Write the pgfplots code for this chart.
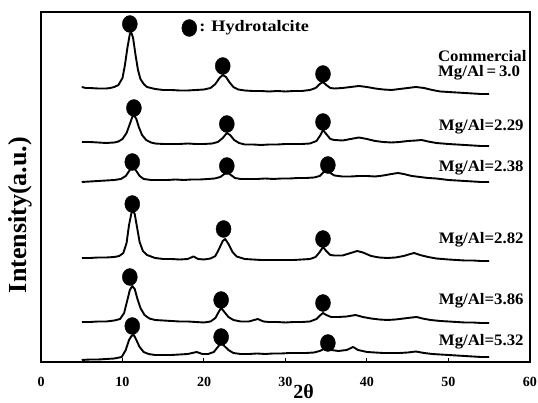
\documentclass[border=0pt]{standalone}
\usepackage{pgfplots}
\pgfplotsset{compat=1.18}
\usepackage{fontspec}
\setmainfont{Liberation Serif}
\begin{document}
\begin{tikzpicture}[lab/.style={font=\fontsize{16}{16}\selectfont\bfseries, anchor=west, inner sep=0pt, xscale=1.05},
  tl/.style={font=\fontsize{14}{14}\selectfont\bfseries, anchor=center, inner sep=0pt, yshift=-20pt}]
\begin{axis}[
  scale only axis, width=489pt, height=350pt,
  xmin=0, xmax=60, ymin=38, ymax=388,
  xtick={0,10,20,30,40,50,60}, ytick=\empty,
  xticklabels=\empty,
  xtick pos=left, tick align=inside,
  major tick length=4pt,
  axis line style={line width=1.2pt},
  every tick/.style={black, line width=1pt},
  xlabel={2θ},
  xlabel style={font=\fontsize{20}{20}\selectfont\bfseries, inner sep=0pt, at={(axis description cs:0.537,-0.086)}, anchor=center},
  ylabel={Intensity(a.u.)},
  ylabel style={font=\fontsize{26}{26}\selectfont\bfseries, inner sep=0pt, at={(axis description cs:-0.042,0.42)}, anchor=center},
  clip=false,
  trace/.style={black, line width=1.9pt, line join=round, mark=none},
  pk/.style={only marks, mark=*, mark size=7.5pt, black, every mark/.append style={yscale=1.13}},
]
% Commercial Mg/Al=3.0
\addplot[trace] coordinates {
(5,313)(5.5,312)(6,312)(7,311.5)(8,311.5)(8.5,312)(9,313)(9.5,315)(10,322)(10.3,335)(10.6,352)(10.9,366)(11.1,367)(11.3,362)(11.6,345)(11.9,330)(12.2,321)(12.6,316)(13,313)(14,311)(15,310)(16,310)(17,309.5)(18,309.5)(19,310)(20,310.5)(20.8,312)(21.4,316)(21.9,322)(22.3,325)(22.7,323)(23.1,318)(23.6,313)(24.2,310.5)(25,309.5)(26,309)(27,309)(28,308.5)(29,309)(30,308.5)(31,309)(32,309)(33,310)(33.7,312)(34.2,316)(34.6,318)(35,315)(35.5,312)(36,311.5)(37,312)(38,313)(39,314)(40,313)(41,311.5)(42,310.5)(43,310)(44,311)(45,312)(46,313)(47,312)(48,310)(49,308.5)(50,308)(51,307.5)(52,307)(53,306.5)(54,306)(55,306)};
% Mg/Al=2.29
\addplot[trace] coordinates {
(5,258)(6,258)(7,257.5)(8,257)(9,257.5)(9.5,258.5)(10,261)(10.5,267)(10.9,276)(11.2,283)(11.4,285)(11.7,281)(12,273)(12.4,265)(12.9,260)(13.5,257.5)(14,256.5)(15,256)(16,256)(17,256)(18,256.5)(19,256)(20,256)(21,256.5)(21.7,258)(22.3,262)(22.8,267)(23.2,265)(23.7,260)(24.3,257)(25,255.5)(26,255.5)(27,255)(28,255.5)(29,255.5)(30,256)(31,256)(32,256)(33,256.5)(33.8,259)(34.3,265)(34.6,270)(35,266)(35.5,261)(36,260)(37,259.5)(38,261)(39,262.5)(40,261)(41,259)(42,258)(43,257.5)(44,258)(45,259)(46,259.5)(46.7,260)(47.5,258.5)(48.5,257)(50,256)(51,255.5)(52,255)(53,254.5)(54,254)(55,254)};
% Mg/Al=2.38
\addplot[trace] coordinates {
(5,218)(6,218.5)(7,219)(8,219.5)(9,220)(9.8,221)(10.4,224)(10.9,230)(11.3,233)(11.7,229)(12.1,224)(12.6,221)(13.5,220)(14.5,220)(15.5,220)(16.5,220.5)(17.5,220)(18.5,220.5)(19.5,220.5)(20.5,221)(21.3,221.5)(22,223)(22.5,226)(22.9,227.5)(23.3,225)(23.8,222)(24.5,221)(25.5,221)(26.5,221)(27.5,221.5)(28.5,221)(29.5,221.5)(30.5,221.5)(31.5,222)(32.5,222)(33.5,222.5)(34.2,224)(34.7,228)(35.1,230)(35.5,227)(36,224.5)(37,223.5)(38,223.5)(39,224)(40,224)(41,223.5)(42,224.5)(43,226)(43.8,227)(44.5,226)(45.5,224)(46.5,223)(47.5,222)(48.5,221.5)(50,220)(51,219.5)(52,219)(53,218.5)(54,218)(55,218)};
% Mg/Al=2.82
\addplot[trace] coordinates {
(5,142)(6,142)(7,142.5)(8,142.5)(9,143)(9.6,144)(10.1,147)(10.5,157)(10.8,175)(11.1,187)(11.3,189)(11.5,186)(11.8,172)(12.1,158)(12.5,149)(13,145)(14,142)(15,141)(16,141)(17,140.5)(18,141)(18.7,143.5)(19.3,141)(20,140.5)(20.8,141.5)(21.4,144)(21.9,152)(22.3,159)(22.6,161)(23,156)(23.5,148)(24,143.5)(25,141)(26,140.5)(27,140)(28,140)(29,140)(30,140)(31,140)(32,140.5)(33,141)(33.7,143)(34.2,148)(34.6,153)(35,149)(35.5,145)(36,144.5)(37,144.5)(38,147)(38.8,149)(39.5,147.5)(40.5,144)(41.5,142.5)(42.5,142)(43.5,142.5)(44.5,144)(45.3,146)(45.8,147)(46.5,145)(47.5,143)(48.5,141.5)(50,140.5)(51,140)(52,139.5)(53,139.5)(54,139)(55,139)};
% Mg/Al=3.86
\addplot[trace] coordinates {
(5,78)(6,78)(7,78.5)(8,78.5)(9,79.5)(9.7,81)(10.2,87)(10.6,100)(10.9,110)(11.2,114)(11.5,111)(11.8,102)(12.2,92)(12.7,85)(13.3,81.5)(14,80)(15,79.5)(16,79)(17,78.5)(18,78.5)(19,78)(20,77.5)(20.8,78.5)(21.4,82)(21.8,88)(22.1,92)(22.5,88)(23,83)(23.6,80)(24.5,78.5)(25.5,78.5)(26.6,81)(27.3,78.5)(28,78)(29,78)(30,77.5)(31,78)(32,78)(33,78.5)(33.8,81)(34.3,85)(34.6,87)(35,85)(35.6,83)(36.5,83)(37.5,83.5)(38.6,85)(39.5,83)(40.5,81.5)(41.5,80.5)(42.5,80)(43.5,80.5)(44.5,81.5)(45.5,82.5)(46.1,83)(46.8,81.5)(47.8,80)(49,79)(50,78.5)(51,78)(52,77.5)(53,77.5)(54,77)(55,77)};
% Mg/Al=5.32
\addplot[trace] coordinates {
(5,40)(6,40.5)(7,40.5)(8,41)(9,41.5)(9.9,43)(10.4,50)(10.8,60)(11.1,64)(11.4,65)(11.7,60)(12.1,53)(12.6,48)(13.2,46)(14,45)(15,45)(16,45)(17,45.5)(18,46)(19.1,48)(19.8,46)(20.5,46)(21.2,48)(21.7,53)(22.1,57)(22.5,54)(23,50)(23.6,47)(24.5,46)(25.5,46)(26.5,46.5)(27.5,46)(28.5,46.5)(29.5,46.5)(30.5,47)(31.5,47)(32.5,47)(33.5,47.5)(34.2,49)(34.7,51)(35.1,51.5)(35.6,50)(36.5,49)(37.5,50)(38.3,53)(38.9,50)(40,48)(41,47.5)(42,47)(43,47)(44,47)(45,47.5)(46,48.5)(47,47)(48,46)(49,45.5)(50,45)(51,44.5)(52,44)(53,43.5)(54,43)(55,43)};
% hydrotalcite markers
\addplot[pk] coordinates {(10.9,376)(22.3,334)(34.6,326)
(11.4,292)(22.8,276)(34.6,278)
(11.2,238)(22.8,234)(35.2,235)
(11.2,196)(22.4,171)(34.6,161)
(10.9,123)(22.1,100)(34.6,97)
(11.2,74)(22.1,63)(35.2,57)
(18.2,372)};
\node[lab, font=\fontsize{16}{16}\selectfont\bfseries, xscale=1.08] at (axis cs:19.4,372) {: Hydrotalcite};
\node[lab] at (axis cs:48.7,344) {Commercial};
\node[lab] at (axis cs:48.7,327) {Mg/Al\,=\,3.0};
\node[lab] at (axis cs:48.8,273) {Mg/Al=2.29};
\node[lab] at (axis cs:48.8,232) {Mg/Al=2.38};
\node[lab] at (axis cs:48.8,160) {Mg/Al=2.82};
\node[lab] at (axis cs:48.8,99) {Mg/Al=3.86};
\node[lab] at (axis cs:48.8,58) {Mg/Al=5.32};
\node[tl] at (axis cs:0,38) {0};
\node[tl] at (axis cs:10,38) {10};
\node[tl] at (axis cs:20,38) {20};
\node[tl] at (axis cs:30,38) {30};
\node[tl] at (axis cs:40,38) {40};
\node[tl] at (axis cs:50,38) {50};
\node[tl] at (axis cs:60,38) {60};
\end{axis}
\pgfresetboundingbox
\path (current axis.south west) ++(-41pt,-41pt) rectangle ++(538pt,403pt);
\end{tikzpicture}
\end{document}
